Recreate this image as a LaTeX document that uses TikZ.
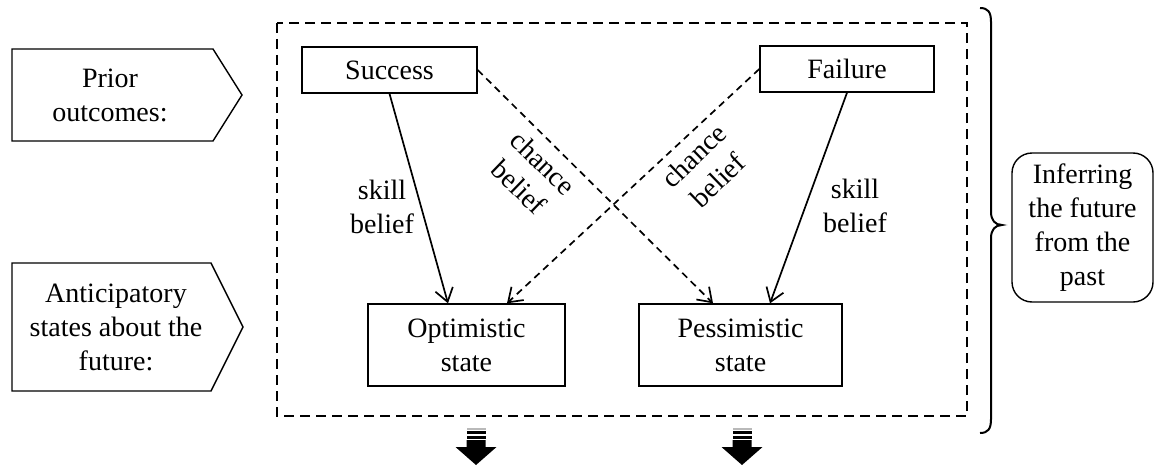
\documentclass[tikz,border=0pt]{standalone}
\usepackage{fontspec}
\setmainfont{Liberation Serif}
\usetikzlibrary{arrows.meta}
\begin{document}
\begin{tikzpicture}[x=0.5pt,y=-0.5pt,
  txt/.style={font=\fontsize{14}{17}\selectfont, align=center, inner sep=0pt},
  box/.style={txt, draw, line width=0.7pt},
  arr/.style={line width=0.85pt, -{Straight Barb[length=6.5pt,width=9pt,line width=0.85pt]}},
  darr/.style={arr, dash pattern=on 3.5pt off 2.5pt},
  outline/.style={line width=0.7pt},
  dashbox/.style={line width=1pt, dash pattern=on 5pt off 3pt},
  bracestyle/.style={line width=1pt}
]
\useasboundingbox (0,0) rectangle (1154,465);

% left pentagons
\draw[outline] (12,49) -- (213,49) -- (242,95) -- (213,141) -- (12,141) -- cycle;
\node[txt] (prior) at (110,95) {Prior\\outcomes:};
\draw[outline] (12,263) -- (211,263) -- (243,327) -- (211,391) -- (12,391) -- cycle;
\node[txt] (antic) at (116,327) {Anticipatory\\states about the\\future:};

% dashed frame
\draw[dashbox] (277,23) rectangle (967,416);

% boxes
\node[box, minimum width=87.5pt, minimum height=23pt] (succ) at (389.5,70) {Success};
\node[box, minimum width=87pt, minimum height=23pt] (fail) at (847,69) {Failure};
\node[box, minimum width=98.5pt, minimum height=41pt] (opt) at (466.5,345) {Optimistic\\state};
\node[box, minimum width=101.5pt, minimum height=41pt] (pess) at (740.5,345) {Pessimistic\\state};

% connectors
\draw[arr] (succ.south) -- ([xshift=-9.25pt]opt.north);
\draw[arr] (fail.south) -- ([xshift=14.75pt]pess.north);
\draw[darr] (succ.east) -- ([xshift=-13.75pt]pess.north);
\draw[darr] (fail.west) -- ([xshift=20.25pt]opt.north);

% labels
\node[txt] (sk1) at (382,207) {skill\\belief};
\node[txt] (sk2) at (855,206) {skill\\belief};
\node[txt, rotate=-44] (ch1) at (531,175) {chance\\belief};
\node[txt, rotate=44] (ch2) at (706,168) {chance\\belief};

% brace
\draw[bracestyle] (980,8) .. controls (988,8) and (991,12) .. (991,22) -- (991,212)
  .. controls (991,220) and (995,225) .. (1002,225)
  .. controls (995,225) and (991,230) .. (991,238) -- (991,419)
  .. controls (991,429) and (988,433) .. (980,433);

% right rounded box
\node[txt, draw, outline, rounded corners=10pt, minimum width=70.5pt, minimum height=74.5pt] (infer) at (1082.5,227.5) {Inferring\\the future\\from the\\past};

% down block arrows
\foreach \x in {476,742}{
  \fill[gray!55] ({\x-9.5},428) rectangle ({\x+9.5},429.5);
  \fill ({\x-9.5},431) rectangle ({\x+9.5},434);
  \fill ({\x-9.5},435.5) rectangle ({\x+9.5},438.5);
  \fill ({\x-9.5},440) -- ({\x+9.5},440) -- ({\x+9.5},447) -- ({\x+20.5},447)
    -- (\x,465) -- ({\x-20.5},447) -- ({\x-9.5},447) -- cycle;
}
\end{tikzpicture}
\end{document}
